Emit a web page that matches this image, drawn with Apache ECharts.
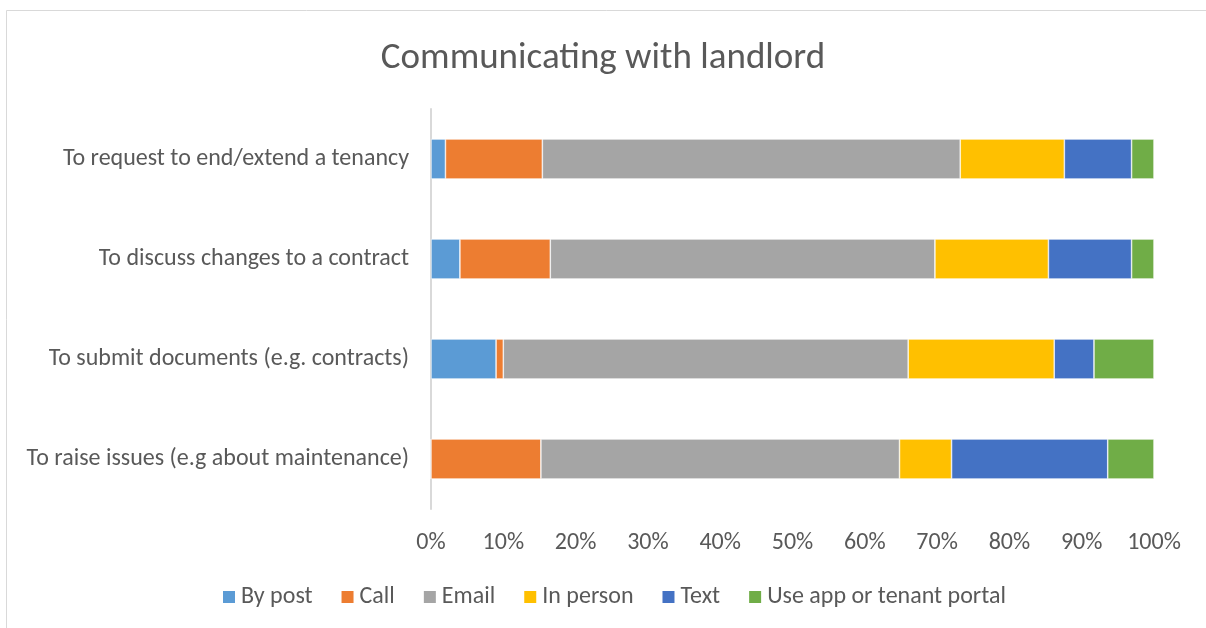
<!DOCTYPE html>
<html>
<head>
<meta charset="utf-8">
<script src="https://cdn.jsdelivr.net/npm/echarts@6/dist/echarts.min.js"></script>
<style>
html,body{margin:0;padding:0;background:#fff;}
#chart{width:1206px;height:628px;}
</style>
</head>
<body>
<div id="chart"></div>
<script>
// categories, top to bottom
var categories=['To request to end/extend a tenancy','To discuss changes to a contract','To submit documents (e.g. contracts)','To raise issues (e.g about maintenance)'];
var xTicks=['0%','10%','20%','30%','40%','50%','60%','70%','80%','90%','100%'];
// percentages per channel, same order as categories
var byPost=[2.0,4.0,9.0,0];
var call=[13.4,12.5,1.0,15.2];
var email=[57.8,53.2,56.0,49.6];
var inPerson=[14.4,15.7,20.2,7.2];
var text=[9.3,11.5,5.5,21.6];
var useApp=[3.1,3.1,8.3,6.4];

var seriesNames=['By post','Call','Email','In person','Text','Use app or tenant portal'];
var seriesData=[byPost,call,email,inPerson,text,useApp];
var colors=['#5b9bd5','#ed7d31','#a5a5a5','#ffc000','#4472c4','#70ad47'];
var font='Carlito, Calibri, "Liberation Sans Narrow", "Open Sans", sans-serif';

var chart=echarts.init(document.getElementById('chart'));
var series=[];
for(var i=0;i<seriesNames.length;i++){
	series.push({
		name:seriesNames[i],
		type:'bar',
		stack:'total',
		barWidth:40,
		itemStyle:{color:colors[i],borderColor:'#ffffff',borderWidth:0.6},
		data:seriesData[i]
	});
}
var option={
	backgroundColor:'#ffffff',
	animation:false,
	title:{
		text:'Communicating with landlord',
		left:'center',
		top:35,
		textStyle:{color:'#595959',fontSize:37,fontWeight:'normal',fontFamily:font}
	},
	graphic:[{
		type:'rect',
		shape:{x:6.5,y:10.5,width:1300,height:700},
		style:{fill:'none',stroke:'#d9d9d9',lineWidth:1},
		silent:true
	}],
	legend:{
		data:seriesNames,
		bottom:14,
		left:216,
		itemWidth:14,
		itemHeight:14,
		itemGap:27,
		icon:'rect',
		textStyle:{color:'#595959',fontSize:24,fontFamily:font}
	},
	grid:{left:431,right:52,top:109,height:400,containLabel:false},
	xAxis:{
		type:'value',
		min:0,
		max:100,
		interval:10,
		axisLine:{show:false},
		axisTick:{show:false},
		splitLine:{show:false},
		axisLabel:{
			color:'#595959',
			fontSize:24,
			fontFamily:font,
			margin:22,
			formatter:function(v){return xTicks[Math.round(v/10)];}
		}
	},
	yAxis:{
		type:'category',
		inverse:true,
		data:categories,
		axisLine:{show:true,lineStyle:{color:'#d9d9d9',width:2}},
		axisTick:{show:false},
		axisLabel:{color:'#595959',fontSize:24,fontFamily:font,margin:22}
	},
	series:series
};
chart.setOption(option);
</script>
</body>
</html>
